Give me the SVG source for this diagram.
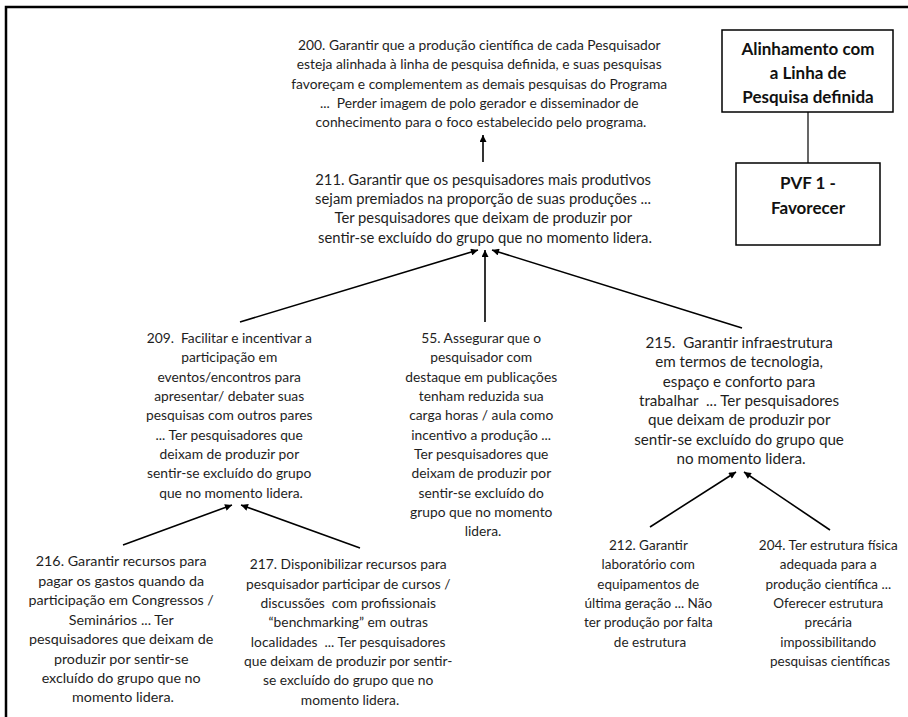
<svg xmlns="http://www.w3.org/2000/svg" width="908" height="717" viewBox="0 0 908 717">
  <defs>
    <marker id="arrow" viewBox="0 0 10 10" refX="10" refY="5" markerWidth="8" markerHeight="7" markerUnits="userSpaceOnUse" orient="auto">
      <path d="M0,0 L10,5 L0,10 z" fill="#000"/>
    </marker>
    <style>
      .t { font-family: "Lato", "Liberation Sans", sans-serif; font-size: 13.8px; fill: #1e1e1e; text-anchor: middle; }
      .lg { font-size: 14.8px; }
      .xl { font-size: 15.2px; }
      .md { font-size: 14.3px; }
      .sm { font-size: 13.5px; }
      .pre { white-space: pre; }
      .b { font-family: "Lato", "Liberation Sans", sans-serif; font-size: 17px; font-weight: bold; fill: #111; text-anchor: middle; }
      .box { fill: #fff; stroke: #000; stroke-width: 1.5; }
      .edge { stroke: #000; stroke-width: 1.6; fill: none; marker-end: url(#arrow); }
      .frame { stroke: #000; stroke-width: 2.5; fill: none; }
    </style>
  </defs>

  <rect width="908" height="717" fill="#fff"/>
  <!-- page frame: top and left rule -->
  <path class="frame" d="M6,717 L6,7 L908,7"/>

  <!-- connectors -->
  <g id="connectors">
    <line class="edge" x1="483" y1="162" x2="483" y2="135"/>
    <line class="edge" x1="240" y1="322" x2="478" y2="250"/>
    <line class="edge" x1="485" y1="322" x2="485" y2="250"/>
    <line class="edge" x1="742" y1="328" x2="492" y2="250"/>
    <line class="edge" x1="123" y1="545" x2="232" y2="505"/>
    <line class="edge" x1="360" y1="548" x2="241" y2="505"/>
    <line class="edge" x1="650" y1="527" x2="736" y2="472"/>
    <line class="edge" x1="830" y1="530" x2="744" y2="472"/>
    <line x1="808" y1="112" x2="808" y2="163" stroke="#000" stroke-width="1.2"/>
  </g>

  <g id="n-header">
    <rect class="box" x="722" y="30" width="171" height="82"/>
    <text class="b"><tspan x="808" y="55">Alinhamento com</tspan><tspan x="808" y="79">a Linha de</tspan><tspan x="808" y="103">Pesquisa definida</tspan></text>
  </g>

  <g id="n-pvf">
    <rect class="box" x="736" y="163" width="144" height="82"/>
    <text class="b"><tspan x="808" y="189">PVF 1 -</tspan><tspan x="808" y="214">Favorecer</tspan></text>
  </g>

  <g id="n200">
    <text class="t">
      <tspan x="481" y="50">200. Garantir que a produção científica de cada Pesquisador</tspan>
      <tspan x="481" y="69">esteja alinhada à linha de pesquisa definida, e suas pesquisas</tspan>
      <tspan x="481" y="89">favoreçam e complementem as demais pesquisas do Programa</tspan>
      <tspan class="pre" x="481" y="108">...  Perder imagem de polo gerador e disseminador de</tspan>
      <tspan x="481" y="127">conhecimento para o foco estabelecido pelo programa.</tspan>
    </text>
  </g>

  <g id="n211">
    <text class="t lg">
      <tspan x="485" y="185">211. Garantir que os pesquisadores mais produtivos</tspan>
      <tspan x="485" y="204">sejam premiados na proporção de suas produções ...</tspan>
      <tspan x="485" y="223">Ter pesquisadores que deixam de produzir por</tspan>
      <tspan x="485" y="243">sentir-se excluído do grupo que no momento lidera.</tspan>
    </text>
  </g>

  <g id="n209">
    <text class="t">
      <tspan class="pre" x="231" y="343">209.  Facilitar e incentivar a</tspan>
      <tspan x="231" y="362">participação em</tspan>
      <tspan x="231" y="382">eventos/encontros para</tspan>
      <tspan x="231" y="401">apresentar/ debater suas</tspan>
      <tspan x="231" y="420">pesquisas com outros pares</tspan>
      <tspan x="231" y="440">... Ter pesquisadores que</tspan>
      <tspan x="231" y="459">deixam de produzir por</tspan>
      <tspan x="231" y="478">sentir-se excluído do grupo</tspan>
      <tspan x="231" y="498">que no momento lidera.</tspan>
    </text>
  </g>

  <g id="n55">
    <text class="t">
      <tspan x="483" y="343">55. Assegurar que o</tspan>
      <tspan x="483" y="362">pesquisador com</tspan>
      <tspan x="483" y="382">destaque em publicações</tspan>
      <tspan x="483" y="401">tenham reduzida sua</tspan>
      <tspan x="483" y="420">carga horas / aula como</tspan>
      <tspan x="483" y="440">incentivo a produção ...</tspan>
      <tspan x="483" y="459">Ter pesquisadores que</tspan>
      <tspan x="483" y="478">deixam de produzir por</tspan>
      <tspan x="483" y="498">sentir-se excluído do</tspan>
      <tspan x="483" y="517">grupo que no momento</tspan>
      <tspan x="483" y="536">lidera.</tspan>
    </text>
  </g>

  <g id="n215">
    <text class="t xl">
      <tspan class="pre" x="741" y="348">215.  Garantir infraestrutura</tspan>
      <tspan x="741" y="367">em termos de tecnologia,</tspan>
      <tspan x="741" y="387">espaço e conforto para</tspan>
      <tspan class="pre" x="741" y="406">trabalhar  ... Ter pesquisadores</tspan>
      <tspan x="741" y="425">que deixam de produzir por</tspan>
      <tspan x="741" y="445">sentir-se excluído do grupo que</tspan>
      <tspan x="741" y="464">no momento lidera.</tspan>
    </text>
  </g>

  <g id="n216">
    <text class="t md">
      <tspan x="123" y="566">216. Garantir recursos para</tspan>
      <tspan x="123" y="586">pagar os gastos quando da</tspan>
      <tspan x="123" y="605">participação em Congressos /</tspan>
      <tspan x="123" y="625">Seminários ... Ter</tspan>
      <tspan x="123" y="644">pesquisadores que deixam de</tspan>
      <tspan x="123" y="664">produzir por sentir-se</tspan>
      <tspan x="123" y="683">excluído do grupo que no</tspan>
      <tspan x="123" y="702">momento lidera.</tspan>
    </text>
  </g>

  <g id="n217">
    <text class="t">
      <tspan x="350" y="569">217. Disponibilizar recursos para</tspan>
      <tspan x="350" y="589">pesquisador participar de cursos /</tspan>
      <tspan class="pre" x="350" y="608">discussões  com profissionais</tspan>
      <tspan x="350" y="627">“benchmarking” em outras</tspan>
      <tspan class="pre" x="350" y="647">localidades  ... Ter pesquisadores</tspan>
      <tspan x="350" y="666">que deixam de produzir por sentir-</tspan>
      <tspan x="350" y="685">se excluído do grupo que no</tspan>
      <tspan x="350" y="705">momento lidera.</tspan>
    </text>
  </g>

  <g id="n212">
    <text class="t sm">
      <tspan x="650" y="550">212. Garantir</tspan>
      <tspan x="650" y="569">laboratório com</tspan>
      <tspan x="650" y="589">equipamentos de</tspan>
      <tspan x="650" y="608">última geração ... Não</tspan>
      <tspan x="650" y="627">ter produção por falta</tspan>
      <tspan x="650" y="647">de estrutura</tspan>
    </text>
  </g>

  <g id="n204">
    <text class="t sm">
      <tspan x="830" y="550">204. Ter estrutura física</tspan>
      <tspan x="830" y="569">adequada para a</tspan>
      <tspan x="830" y="589">produção científica ...</tspan>
      <tspan x="830" y="608">Oferecer estrutura</tspan>
      <tspan x="830" y="627">precária</tspan>
      <tspan x="830" y="647">impossibilitando</tspan>
      <tspan x="830" y="666">pesquisas científicas</tspan>
    </text>
  </g>
</svg>
